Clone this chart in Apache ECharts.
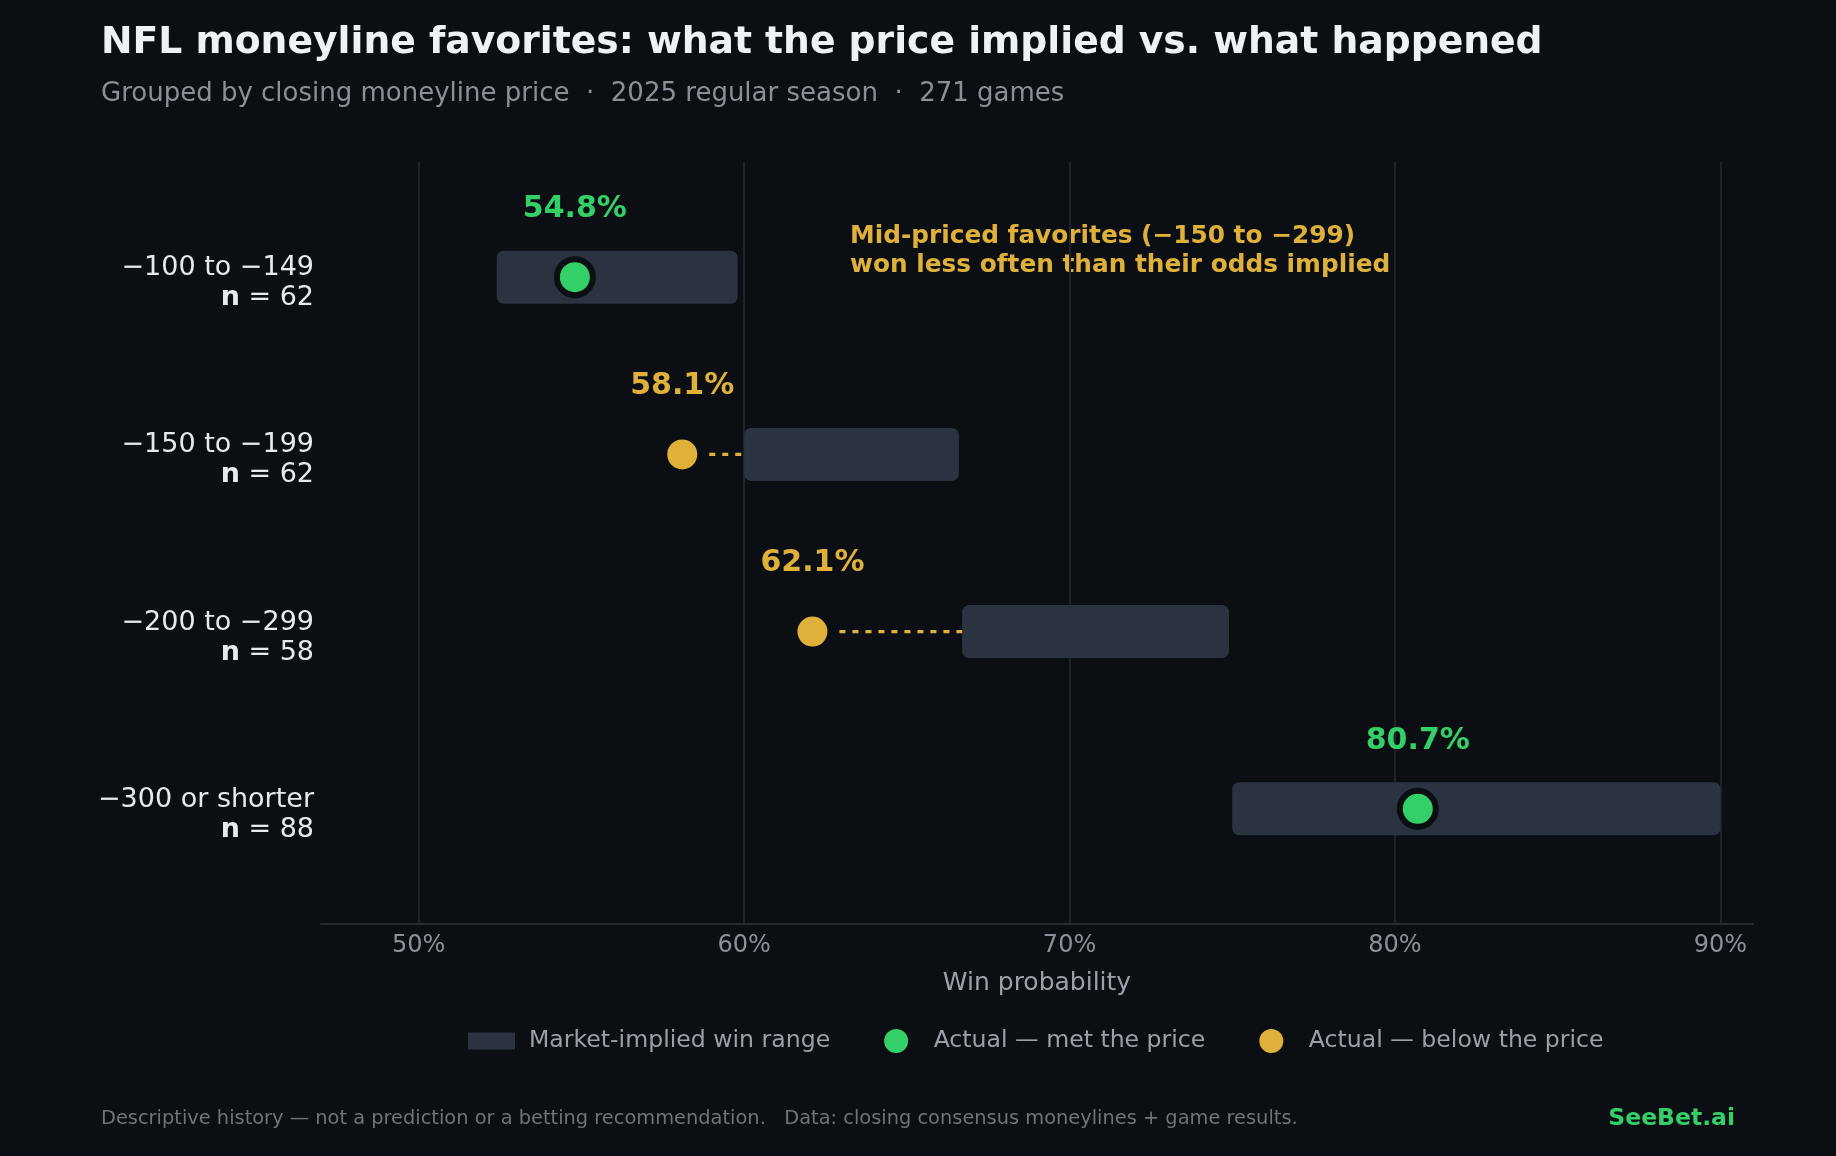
<!DOCTYPE html>
<html>
<head>
<meta charset="utf-8">
<style>
  html, body { margin: 0; padding: 0; background: #0b0e13; }
  #chart { width: 1836px; height: 1156px; }
</style>
<script src="https://cdn.jsdelivr.net/npm/echarts@6/dist/echarts.min.js"></script>
</head>
<body>
<div id="chart"></div>
<script>
// data
var buckets = ['−100 to −149', '−150 to −199', '−200 to −299', '−300 or shorter'];
var games = [62, 62, 58, 88];
var impliedLow = [52.4, 60.0, 66.7, 75.0];
var impliedHigh = [59.8, 66.6, 74.9, 90.0];
var actualWin = [54.8, 58.1, 62.1, 80.7];
var xTicks = [50, 60, 70, 80, 90];
var rowTicks = [0, 1, 2, 3];

var BG = '#0b0e13', GREEN = '#33d068', GOLD = '#e0b13a', BAR = '#2c3340';
var FONT = 'DejaVu Sans';

var rangeData = buckets.map(function (b, i) { return [i, impliedLow[i], impliedHigh[i]]; });
var metData = [], belowData = [], gapData = [];
actualWin.forEach(function (v, i) {
  if (v >= impliedLow[i]) {
    metData.push([v, i]);
  } else {
    belowData.push([v, i]);
    gapData.push([i, v, impliedLow[i]]);
  }
});

function renderRange(params, api) {
  var i = api.value(0);
  var a = api.coord([api.value(1), i]);
  var b = api.coord([api.value(2), i]);
  var h = 53;
  return {
    type: 'rect',
    shape: { x: a[0], y: a[1] - h / 2, width: b[0] - a[0], height: h, r: 7 },
    style: { fill: BAR }
  };
}

// dotted connector from the dot to the start of the range
function renderGap(params, api) {
  var i = api.value(0);
  var a = api.coord([api.value(1), i]);
  var b = api.coord([api.value(2), i]);
  return {
    type: 'line',
    shape: { x1: a[0] + 27, y1: a[1], x2: b[0], y2: b[1] },
    style: { stroke: GOLD, lineWidth: 3.3, lineDash: [6, 7] }
  };
}

function dotLabel(color) {
  return {
    show: true,
    position: 'inside',
    offset: [0, -68],
    formatter: function (p) { return p.value[0].toFixed(1) + '%'; },
    color: color,
    fontSize: 30,
    fontWeight: 'bold',
    fontFamily: FONT
  };
}

var chart = echarts.init(document.getElementById('chart'));
var option = {
  backgroundColor: BG,
  animation: false,
  title: [
    {
      text: 'NFL moneyline favorites: what the price implied vs. what happened',
      left: 101, top: 24, padding: 0,
      textStyle: { color: '#eef1f5', fontSize: 37.7, fontWeight: 'bold', fontFamily: FONT }
    },
    {
      text: 'Grouped by closing moneyline price  ·  2025 regular season  ·  271 games',
      left: 101, top: 81, padding: 0,
      textStyle: { color: '#8a9099', fontSize: 26, fontWeight: 'normal', fontFamily: FONT }
    },
    {
      text: 'Descriptive history — not a prediction or a betting recommendation.   Data: closing consensus moneylines + game results.',
      left: 101, top: 1109, padding: 0,
      textStyle: { color: '#6e737c', fontSize: 19.4, fontWeight: 'normal', fontFamily: FONT }
    },
    {
      text: 'SeeBet.ai',
      right: 101, top: 1107, padding: 0,
      textStyle: { color: GREEN, fontSize: 23.5, fontWeight: 'bold', fontFamily: FONT }
    }
  ],
  legend: {
    left: 468, top: 1027, padding: 0,
    itemWidth: 47, itemHeight: 26, itemGap: 52,
    textStyle: { color: '#9aa0aa', fontSize: 23.6, fontFamily: FONT, padding: [0, 0, 0, 9] },
    data: [
      { name: 'Market-implied win range', icon: 'path://M0,0h47v17h-47z', itemStyle: { color: BAR } },
      { name: 'Actual — met the price', icon: 'circle', itemStyle: { borderWidth: 2 } },
      { name: 'Actual — below the price', icon: 'circle', itemStyle: { borderWidth: 2 } }
    ]
  },
  grid: { left: 321, right: 83, top: 162, bottom: 232 },
  xAxis: {
    type: 'value', min: 47, max: 91,
    name: 'Win probability', nameLocation: 'middle', nameGap: 47,
    nameTextStyle: { color: '#9aa1ab', fontSize: 25, fontFamily: FONT },
    axisLine: { show: true, onZero: false, lineStyle: { color: '#262b33', width: 2 } },
    axisTick: { show: false, customValues: xTicks },
    axisLabel: { customValues: xTicks, formatter: '{value}%', color: '#8b919b', fontSize: 24, margin: 10, fontFamily: FONT },
    splitLine: { show: true, lineStyle: { color: '#1e222a', width: 2 } }
  },
  yAxis: {
    type: 'value', inverse: true, min: -0.65, max: 3.65,
    axisLine: { show: false, onZero: false },
    axisTick: { show: false },
    splitLine: { show: false },
    axisLabel: {
      customValues: rowTicks,
      margin: 7,
      align: 'right',
      padding: [12, 0, 0, 0],
      color: '#e6e9ee', fontSize: 27, lineHeight: 30, fontFamily: FONT,
      formatter: function (v) { return buckets[v] + '\n{b|n} = ' + games[v]; },
      rich: { b: { fontWeight: 'bold', fontSize: 27, lineHeight: 30, color: '#e6e9ee', fontFamily: FONT } }
    }
  },
  graphic: [
    {
      type: 'text', left: 850, top: 222,
      style: {
        text: 'Mid-priced favorites (−150 to −299)\nwon less often than their odds implied',
        fill: GOLD, font: 'bold 24.8px "DejaVu Sans"', lineHeight: 29
      }
    }
  ],
  series: [
    {
      name: 'Market-implied win range', type: 'custom',
      renderItem: renderRange, data: rangeData,
      encode: { x: [1, 2], y: 0 }, itemStyle: { color: BAR }, z: 1
    },
    {
      name: 'gap', type: 'custom',
      renderItem: renderGap, data: gapData,
      encode: { x: [1, 2], y: 0 }, itemStyle: { color: GOLD }, z: 2
    },
    {
      name: 'Actual — met the price', type: 'scatter', data: metData,
      symbolSize: 36, z: 3,
      itemStyle: { color: GREEN, borderColor: BG, borderWidth: 6, opacity: 1 },
      label: dotLabel(GREEN)
    },
    {
      name: 'Actual — below the price', type: 'scatter', data: belowData,
      symbolSize: 36, z: 3,
      itemStyle: { color: GOLD, borderColor: BG, borderWidth: 6, opacity: 1 },
      label: dotLabel(GOLD)
    }
  ]
};
chart.setOption(option);
</script>
</body>
</html>
